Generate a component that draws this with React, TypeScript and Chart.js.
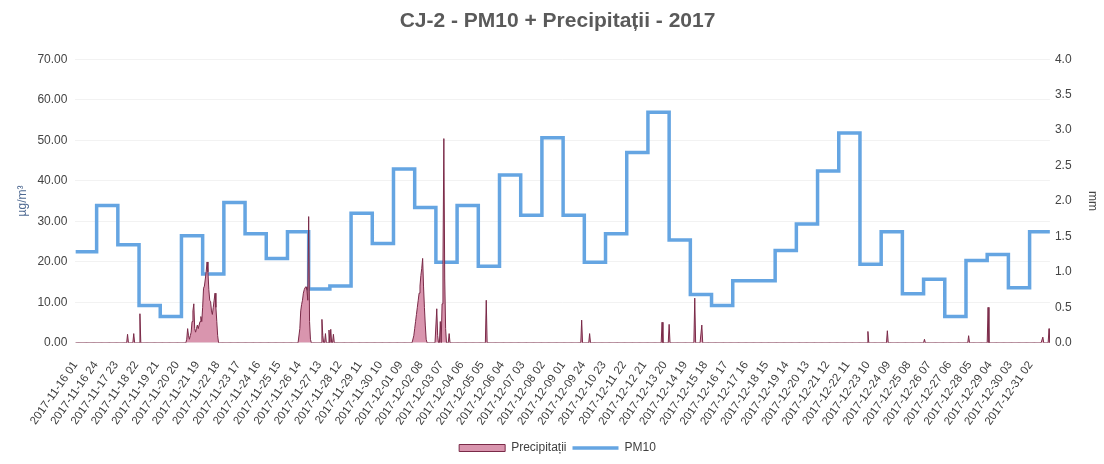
import React, { useEffect, useRef } from "react";
import { Chart, registerables } from "chart.js";

Chart.register(...registerables);

const FONT = "'Liberation Sans', Arial, sans-serif";
const TITLE = "CJ-2 - PM10 + Precipitații - 2017";
const LEFT_AXIS_TITLE = "µg/m³";
const RIGHT_AXIS_TITLE = "mm";
const SERIES_PRECIP = "Precipitații";
const SERIES_PM10 = "PM10";

// hourly axis: 2017-11-16 01 ... 2017-12-31 24
const TOTAL_HOURS = 1104;
const HOURS_PER_DAY = 24;
const HOURS_PER_TICK = 23;

const xTickLabels = [
  "2017-11-16 01", "2017-11-16 24", "2017-11-17 23", "2017-11-18 22", "2017-11-19 21",
  "2017-11-20 20", "2017-11-21 19", "2017-11-22 18", "2017-11-23 17", "2017-11-24 16",
  "2017-11-25 15", "2017-11-26 14", "2017-11-27 13", "2017-11-28 12", "2017-11-29 11",
  "2017-11-30 10", "2017-12-01 09", "2017-12-02 08", "2017-12-03 07", "2017-12-04 06",
  "2017-12-05 05", "2017-12-06 04", "2017-12-07 03", "2017-12-08 02", "2017-12-09 01",
  "2017-12-09 24", "2017-12-10 23", "2017-12-11 22", "2017-12-12 21", "2017-12-13 20",
  "2017-12-14 19", "2017-12-15 18", "2017-12-16 17", "2017-12-17 16", "2017-12-18 15",
  "2017-12-19 14", "2017-12-20 13", "2017-12-21 12", "2017-12-22 11", "2017-12-23 10",
  "2017-12-24 09", "2017-12-25 08", "2017-12-26 07", "2017-12-27 06", "2017-12-28 05",
  "2017-12-29 04", "2017-12-30 03", "2017-12-31 02",
];

// daily PM10 mean (µg/m³), 2017-11-16 ... 2017-12-31
const pm10Daily = [
  22.5, 33.9, 24.2, 9.2, 6.5, 26.4, 17.0, 34.6, 26.9, 20.8,
  27.4, 13.3, 14.0, 32.0, 24.5, 42.9, 33.4, 19.9, 33.9, 18.9,
  41.4, 31.5, 50.6, 31.5, 19.9, 26.9, 47.0, 56.9, 25.4, 11.9,
  9.2, 15.3, 15.3, 22.8, 29.3, 42.4, 51.8, 19.4, 27.4, 12.1,
  15.7, 6.5, 20.3, 21.8, 13.6, 27.4,
];

// hourly precipitation (mm): hour index (0 = 2017-11-16 01) and amount
const precipHours = [
  59, 66, 73,
  126, 127, 128, 129, 130, 131, 132, 133, 134, 135, 136, 137, 138, 139, 140, 141,
  142, 143, 144, 145, 146, 147, 148, 149, 150, 151, 152, 153, 154, 155, 156, 157,
  158, 159, 160, 161,
  254, 255, 256, 257, 258, 259, 260, 261, 262, 263, 264, 265, 266,
  279, 280, 283, 287, 289, 292,
  383, 384, 385, 386, 387, 388, 389, 390, 391, 392, 393, 394, 395, 396, 397,
  409, 410, 413, 415, 416, 417, 418, 419, 423,
  465, 573, 582, 664, 672, 701, 709, 897, 919, 961, 1011, 1033, 1095, 1102,
];
const precipMm = [
  0.12, 0.13, 0.41,
  0.05, 0.2, 0.1, 0.05, 0.1, 0.15, 0.3, 0.45, 0.55, 0.2, 0.15, 0.2, 0.25, 0.2, 0.25, 0.3,
  0.37, 0.3, 0.5, 0.77, 0.8, 0.9, 1.0, 1.14, 1.0, 0.75, 0.6, 0.58, 0.45, 0.4, 0.5, 0.6,
  0.7, 0.5, 0.3, 0.1,
  0.2, 0.45, 0.54, 0.6, 0.7, 0.75, 0.78, 0.79, 0.75, 0.6, 1.78, 0.3, 0.05,
  0.33, 0.1, 0.13, 0.18, 0.19, 0.12,
  0.1, 0.2, 0.3, 0.4, 0.5, 0.6, 0.7, 0.8, 0.95, 1.05, 1.19, 0.8, 0.5, 0.25, 0.05,
  0.48, 0.1, 0.3, 0.55, 1.1, 2.88, 0.9, 0.2, 0.13,
  0.6, 0.32, 0.13, 0.29, 0.26, 0.63, 0.25, 0.16, 0.17, 0.05, 0.1, 0.5, 0.08, 0.2,
];

const leftAxis = { min: 0, max: 70, step: 10 };
const rightAxis = { min: 0, max: 4, step: 0.5 };

export default function App() {
  const ref = useRef<HTMLCanvasElement | null>(null);

  useEffect(() => {
    if (!ref.current) return;
    Chart.defaults.font.family = FONT;

    const pm10Points = pm10Daily.map((v, d) => ({ x: d * HOURS_PER_DAY, y: v }));
    pm10Points.push({ x: TOTAL_HOURS - 1, y: pm10Daily[pm10Daily.length - 1] });

    const hourly = new Array(TOTAL_HOURS).fill(0);
    precipHours.forEach((h, i) => {
      hourly[h] = precipMm[i];
    });
    const precipPoints = hourly.map((v, i) => ({ x: i, y: v }));

    const chart = new Chart(ref.current, {
      type: "line",
      data: {
        datasets: [
          {
            label: SERIES_PRECIP,
            data: precipPoints,
            yAxisID: "y1",
            fill: "origin",
            backgroundColor: "#d995ae",
            borderColor: "#7a2a48",
            borderWidth: 1,
            pointRadius: 0,
            pointStyle: "rect",
            tension: 0,
          },
          {
            label: SERIES_PM10,
            data: pm10Points,
            yAxisID: "y",
            stepped: "before",
            fill: false,
            borderColor: "#65a5e2",
            backgroundColor: "#65a5e2",
            borderWidth: 3.5,
            pointRadius: 0,
            pointStyle: "line",
          },
        ],
      },
      options: {
        animation: false,
        responsive: true,
        maintainAspectRatio: false,
        layout: { padding: { left: 15, right: 4, top: 0, bottom: 0 } },
        plugins: {
          title: {
            display: true,
            text: TITLE,
            color: "#5a5a5a",
            font: { family: FONT, size: 21, weight: "bold" },
            padding: { top: 9, bottom: 25 },
          },
          legend: {
            position: "bottom",
            labels: {
              usePointStyle: true,
              pointStyleWidth: 46,
              boxHeight: 7,
              color: "#404040",
              font: { family: FONT, size: 12 },
              padding: 6,
            },
          },
          tooltip: { enabled: false },
        },
        scales: {
          x: {
            type: "linear",
            min: 0,
            max: TOTAL_HOURS - 1,
            afterBuildTicks: (scale: any) => {
              scale.ticks = xTickLabels.map((_, k) => ({ value: k * HOURS_PER_TICK }));
            },
            ticks: {
              autoSkip: false,
              minRotation: 55,
              maxRotation: 55,
              padding: 8,
              color: "#3c3c3c",
              font: { family: FONT, size: 11.5 },
              callback: (_v: any, i: number) => xTickLabels[i],
            },
            grid: { display: false },
            border: { display: false },
          },
          y: {
            position: "left",
            min: leftAxis.min,
            max: leftAxis.max,
            ticks: {
              stepSize: leftAxis.step,
              padding: 8,
              color: "#444",
              font: { family: FONT, size: 12 },
              callback: (v: any) => Number(v).toFixed(2),
            },
            grid: { color: "#f2f2f2", drawTicks: false },
            border: { display: false },
            title: {
              display: true,
              text: LEFT_AXIS_TITLE,
              color: "#4f6a92",
              font: { family: FONT, size: 12 },
              padding: { top: 0, bottom: 0 },
            },
          },
          y1: {
            position: "right",
            min: rightAxis.min,
            max: rightAxis.max,
            ticks: {
              stepSize: rightAxis.step,
              padding: 5,
              color: "#444",
              font: { family: FONT, size: 12 },
              callback: (v: any) => Number(v).toFixed(1),
            },
            grid: { display: false, drawTicks: false },
            border: { display: false },
            title: {
              display: true,
              text: RIGHT_AXIS_TITLE,
              color: "#444",
              font: { family: FONT, size: 12 },
              padding: { top: 0, bottom: 9 },
            },
          },
        },
      },
    });

    return () => chart.destroy();
  }, []);

  return (
    <div style={{ position: "fixed", left: 0, top: 0, width: 1104, height: 464, background: "#fff" }}>
      <canvas ref={ref} />
    </div>
  );
}
